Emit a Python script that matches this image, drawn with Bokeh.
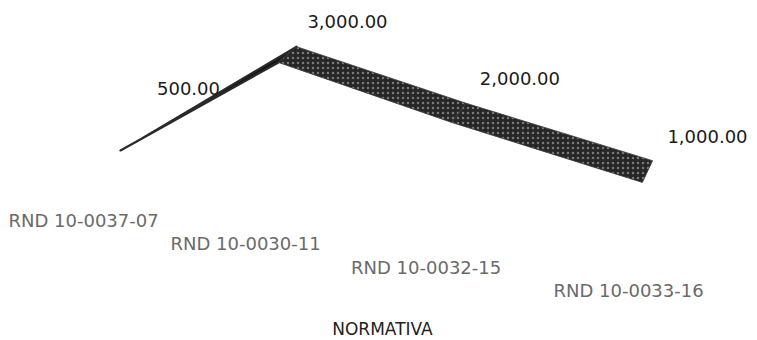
import math

from bokeh.core.properties import value
from bokeh.embed import file_html
from bokeh.models import Range1d
from bokeh.plotting import figure
from bokeh.resources import INLINE

# ---- chart data -------------------------------------------------------------
categories = ["RND 10-0037-07", "RND 10-0030-11", "RND 10-0032-15", "RND 10-0033-16"]
values = [500, 3000, 2000, 1000]
axis_title = "NORMATIVA"

value_labels = [f"{v:,.2f}" for v in values]

# ---- oblique/perspective projection of the 3-D line chart -------------------
W, H = 757, 340


def persp(i, step, c):
    """Horizontal spacing that widens toward the viewer."""
    return step * i / (1 - c * i)


def front(i, v):
    """Front edge of the ribbon for category i and value v."""
    return 120 + persp(i, 151, 0.044), 171.1 + 17.7 * i - 0.04229 * v


def depth(i):
    """Depth direction of the ribbon, turning with perspective."""
    th = math.radians(29 + 12 * i)
    return 24 * math.cos(th), -24 * math.sin(th)


def label_pos(i, v):
    return 188 + persp(i, 152.8, 0.0389), 105.8 + 21.9 * i - 0.03557 * v


def category_pos(i):
    return 8 + persp(i, 153.7, 0.0513), 220 + 23.3 * i


p = figure(
    width=W, height=H,
    x_range=Range1d(0, W), y_range=Range1d(H, 0),
    output_backend="svg", toolbar_location=None,
    min_border=0, outline_line_color=None,
    background_fill_color="white", border_fill_color="white",
)
p.axis.visible = False
p.grid.visible = False

# ribbon: one face per segment
pts = [front(i, v) for i, v in enumerate(values)]
dep = [depth(i) for i in range(len(values))]
seg_xs, seg_ys = [], []
for i in range(len(values) - 1):
    (x0, y0), (x1, y1) = pts[i], pts[i + 1]
    (dx0, dy0), (dx1, dy1) = dep[i], dep[i + 1]
    seg_xs.append([x0, x1, x1 + dx1, x0 + dx0])
    seg_ys.append([y0, y1, y1 + dy1, y0 + dy0])

rising = [k for k in range(len(seg_xs)) if values[k + 1] >= values[k]]
falling = [k for k in range(len(seg_xs)) if values[k + 1] < values[k]]

p.patches(
    xs=[seg_xs[k] for k in rising], ys=[seg_ys[k] for k in rising],
    fill_color="#151515", line_color="#2a2a2a", line_width=2.2,
    line_join="round",
)
p.patches(
    xs=[seg_xs[k] for k in falling], ys=[seg_ys[k] for k in falling],
    fill_color="#262626", line_color="#3a3a3a", line_width=0.8,
    hatch_pattern="dot", hatch_color="#b0b0b0", hatch_alpha=0.6, hatch_scale=5,
)

# value labels
lx, ly = zip(*[label_pos(i, v) for i, v in enumerate(values)])
p.text(
    x=list(lx), y=list(ly), text=value_labels,
    text_font=value("DejaVu Sans"), text_font_size="18px",
    text_color="#1a1a1a", text_align="center", text_baseline="middle",
)

# category labels along the slanted floor edge
cx, cy = zip(*[category_pos(i) for i in range(len(categories))])
p.text(
    x=list(cx), y=list(cy), text=categories,
    text_font=value("DejaVu Sans"), text_font_size="18px",
    text_color="#6a6a6a", text_align="left", text_baseline="middle",
)

# axis title
p.text(
    x=[382], y=[328], text=[axis_title],
    text_font=value("DejaVu Sans"), text_font_size="17px",
    text_color="#222222", text_align="center", text_baseline="middle",
)

open("out.html", "w").write(file_html(p, INLINE))
